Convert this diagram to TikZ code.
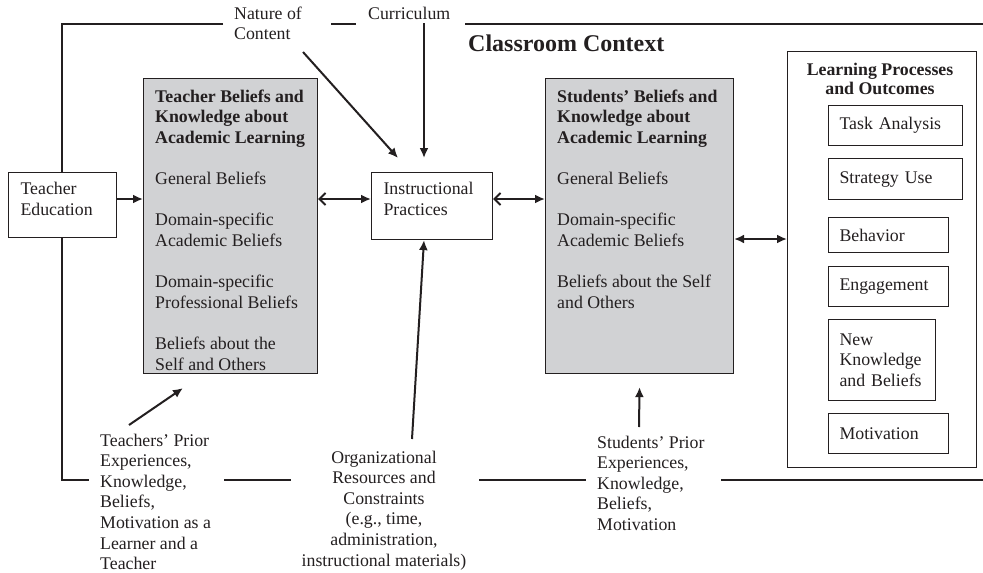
\documentclass[tikz,border=0pt]{standalone}
\usepackage{fontspec}
\setmainfont{Liberation Serif}
\usetikzlibrary{arrows.meta}
\definecolor{ink}{HTML}{231F20}
\definecolor{boxgray}{HTML}{D1D2D4}
\newcommand\lowpad[1]{\rule[-#1]{0pt}{#1}}
\begin{document}
\begin{tikzpicture}[x=1pt,y=-1pt,
  txt/.style={font=\fontsize{17.8}{20.6}\selectfont, inner sep=0pt, align=left, text=ink},
  box/.style={draw=ink, line width=1.1pt, fill=white, anchor=north west},
  shaded/.style={draw=ink, line width=1.1pt, fill=boxgray, anchor=north west, inner sep=0pt},
  frame/.style={draw=ink, line width=1.1pt},
  arr/.style={draw=ink, line width=2pt, -{Latex[length=10pt,width=9pt]}},
  darr/.style={draw=ink, line width=2pt, {Straight Barb[length=6pt,width=12pt]}-{Latex[length=10pt,width=9pt]}},
  ddarr/.style={draw=ink, line width=2pt, {Latex[length=10pt,width=9pt]}-{Latex[length=10pt,width=9pt]}},
]
\useasboundingbox (0,0) rectangle (983,573);

% classroom context frame (open on the right)
\draw[frame] (223,24) -- (62,24) -- (62,480) -- (89,480);
\draw[frame] (331,24) -- (356,24);
\draw[frame] (465,24) -- (983,24);
\draw[frame] (224,480) -- (291,480);
\draw[frame] (479,480) -- (586,480);
\draw[frame] (721,480) -- (983,480);

% top labels
\node[txt, anchor=north west] (nature) at (234,6.5) {Nature of\\Content};
\node[txt, anchor=north west] (curr) at (368,6.5) {Curriculum};
\node[txt, anchor=north west, font=\fontsize{24}{28}\selectfont\bfseries] (ctx) at (468,35) {Classroom Context};

% teacher education
\node[txt, box, inner xsep=12pt, inner ysep=0pt, text width=84pt, minimum width=108pt, minimum height=65pt]
  (te) at (8,172) {Teacher\\Education\lowpad{13pt}};

% teacher beliefs
\node[shaded, minimum width=174pt, minimum height=295pt] (tb) at (143,78) {};
\node[txt, anchor=north west] (tbtext) at (155,89.5)
  {\textbf{Teacher Beliefs and}\\\textbf{Knowledge about}\\\textbf{Academic Learning}\\[20.6pt]
   General Beliefs\\[20.6pt]
   Domain-specific\\Academic Beliefs\\[20.6pt]
   Domain-specific\\Professional Beliefs\\[20.6pt]
   Beliefs about the\\Self and Others};

% instructional practices
\node[txt, box, inner xsep=12pt, inner ysep=0pt, text width=97pt, minimum width=121pt, minimum height=67pt]
  (ip) at (371,172) {Instructional\\Practices\lowpad{14pt}};

% students beliefs
\node[shaded, minimum width=188pt, minimum height=295pt] (sb) at (545,78) {};
\node[txt, anchor=north west] (sbtext) at (557,89.5)
  {\textbf{Students’ Beliefs and}\\\textbf{Knowledge about}\\\textbf{Academic Learning}\\[20.6pt]
   General Beliefs\\[20.6pt]
   Domain-specific\\Academic Beliefs\\[20.6pt]
   Beliefs about the Self\\and Others};

% learning processes and outcomes
\node[box, minimum width=189pt, minimum height=416pt, inner sep=0pt] (lp) at (787,51) {};
\node[txt, anchor=north, align=center, font=\fontsize{17.8}{19.5}\selectfont\bfseries] (lptitle) at (880,62.5)
  {Learning Processes\\and Outcomes};
\node[txt, box, inner xsep=11pt, text width=112pt, minimum width=134pt, minimum height=40pt] (task) at (828,105) {Task Analysis};
\node[txt, box, inner xsep=11pt, text width=112pt, minimum width=134pt, minimum height=41pt] (strat) at (828,158) {Strategy Use};
\node[txt, box, inner xsep=11pt, text width=98pt, minimum width=120pt, minimum height=35pt] (behav) at (828,217) {Behavior};
\node[txt, box, inner xsep=11pt, text width=98pt, minimum width=120pt, minimum height=40pt] (engage) at (828,266) {Engagement};
\node[txt, box, inner xsep=11pt, text width=85pt, minimum width=107pt, minimum height=81pt] (newkb) at (828,319) {New\\Knowledge\\and Beliefs};
\node[txt, box, inner xsep=11pt, text width=98pt, minimum width=120pt, minimum height=40pt] (motiv) at (828,413) {Motivation};

% bottom labels
\node[txt, anchor=north west] (tprior) at (100,433.5)
  {Teachers’ Prior\\Experiences,\\Knowledge,\\Beliefs,\\Motivation as a\\Learner and a\\Teacher};
\node[txt, anchor=north, align=center] (org) at (384,450.5)
  {Organizational\\Resources and\\Constraints\\(e.g., time,\\administration,\\instructional materials)};
\node[txt, anchor=north west] (sprior) at (597,435.5)
  {Students’ Prior\\Experiences,\\Knowledge,\\Beliefs,\\Motivation};

% helper coordinates
\coordinate (rowA) at (0,199);
\coordinate (rowB) at (0,239);
\coordinate (natstart) at (303,52);
\coordinate (currstart) at (424,23);
\coordinate (ipgap) at ([yshift=14pt]ip.north);
\coordinate (orgstart) at (412,439);
\coordinate (tpstart) at (129,425);
\coordinate (spstart) at (639,427);

% connectors
\draw[arr] (te.east |- rowA) -- (tb.west |- rowA);
\draw[darr] (tb.east |- rowA) -- (ip.west |- rowA);
\draw[darr] (ip.east |- rowA) -- (sb.west |- rowA);
\draw[ddarr] (sb.east |- rowB) -- (lp.west |- rowB);
\draw[arr] (natstart) -- ([xshift=27pt,yshift=14pt]ip.north west);
\draw[arr] (currstart) -- (currstart |- ipgap);
\draw[arr] (orgstart) -- (currstart |- ip.south);
\draw[arr] (tpstart) -- ([xshift=40pt,yshift=-14pt]tb.south west);
\draw[arr] (spstart) -- ([yshift=-13pt]sb.south);
\end{tikzpicture}
\end{document}
